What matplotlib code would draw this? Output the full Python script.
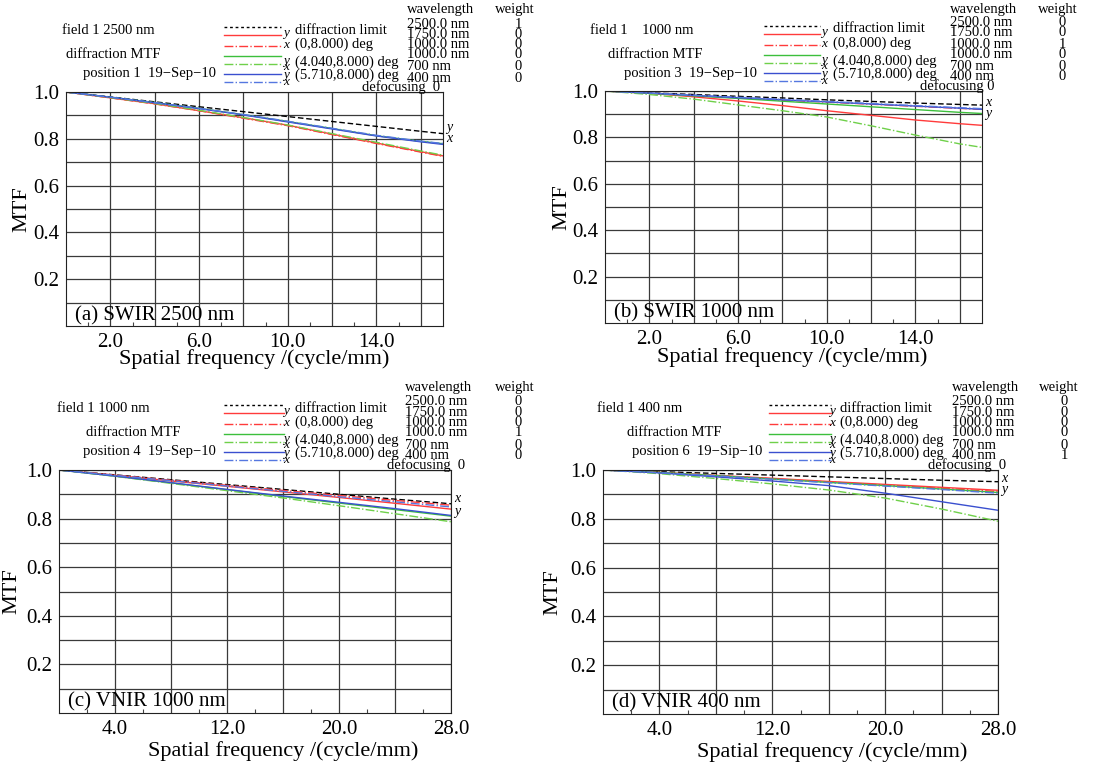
import matplotlib
matplotlib.use('Agg')
import matplotlib.pyplot as plt
from matplotlib.lines import Line2D

plt.rcParams['font.family'] = ['Liberation Serif', 'DejaVu Serif']

# spatial frequency samples (cycle/mm)
freq_swir = [0, 2, 4, 6, 8, 10, 12, 14, 16, 17]
freq_vnir = [0, 4, 8, 12, 16, 20, 24, 28]

# (a) SWIR 2500 nm
a_diff = [1.0, .979, .958, .937, .916, .895, .874, .853, .832, .822]
a_red_y = [1.0, .975, .95, .92, .89, .858, .82, .782, .745, .727]
a_red_x = [1.0, .975, .949, .92, .888, .856, .818, .78, .743, .725]
a_green_y = [1.0, .978, .955, .93, .903, .874, .844, .813, .789, .779]
a_green_x = [1.0, .976, .951, .922, .891, .859, .822, .785, .748, .73]
a_blue_y = [1.0, .978, .954, .929, .902, .872, .842, .812, .787, .776]
a_blue_x = [1.0, .978, .955, .93, .904, .875, .845, .815, .79, .78]

# (b) SWIR 1000 nm
b_diff = [1.0, .992, .985, .977, .970, .962, .955, .948, .942, .939]
b_red_y = [1.0, .99, .975, .957, .937, .915, .895, .875, .859, .852]
b_red_x = [1.0, .99, .98, .97, .961, .952, .943, .934, .925, .921]
b_green_y = [1.0, .99, .979, .968, .956, .944, .932, .92, .908, .903]
b_green_x = [1.0, .985, .965, .94, .915, .888, .85, .81, .772, .757]
b_blue_y = [1.0, .991, .981, .971, .962, .953, .944, .935, .926, .921]
b_blue_x = [1.0, .991, .982, .973, .964, .955, .946, .937, .928, .924]

# (c) VNIR 1000 nm
c_diff = [1.0, .98, .96, .94, .92, .90, .88, .861]
c_red_y = [1.0, .978, .955, .933, .91, .887, .863, .839]
c_red_x = [1.0, .979, .958, .937, .916, .895, .875, .855]
c_green_y = [1.0, .975, .947, .919, .891, .864, .837, .81]
c_green_x = [1.0, .974, .945, .915, .885, .853, .82, .787]
c_blue_y = [1.0, .975, .948, .92, .893, .867, .841, .813]
c_blue_x = [1.0, .978, .956, .934, .912, .89, .869, .848]

# (d) VNIR 400 nm
d_diff = [1.0, .993, .986, .979, .972, .965, .958, .952]
d_red_y = [1.0, .99, .978, .966, .953, .941, .929, .917]
d_red_x = [1.0, .99, .977, .964, .951, .938, .925, .912]
d_green_y = [1.0, .99, .977, .963, .949, .936, .922, .908]
d_green_x = [1.0, .985, .965, .943, .918, .885, .84, .79]
d_blue_y = [1.0, .988, .972, .955, .936, .905, .87, .835]
d_blue_x = [1.0, .989, .976, .962, .948, .934, .92, .905]

wavelengths = ['2500.0 nm', '1750.0 nm', '1000.0 nm', '1000.0 nm', '700 nm', '400 nm']
field_names = ['(0,8.000) deg', '(4.040,8.000) deg', '(5.710,8.000) deg']

W, H = 1100, 767
fig = plt.figure(figsize=(11, 7.67), dpi=100)


def fx(px):
    return px / W


def fy(py):
    return 1 - py / H


red, green, blue = '#ff3b3b', '#3cbf3c', '#3a4fcf'
curve_styles = [('k', (0, (4, 2))), (red, '-'), (red, '-.'), (green, '-'),
                ('#6fd04a', '-.'), (blue, '-'), ('#5577e0', '-.')]
head_styles = [('k', (0, (2, 2)))] + curve_styles[1:]

hsize = 10.5


def panel(box, freq, curves, xmax, grid_x, lab_x, minor_x, title, field, position,
          weights, defocus, head, ends, ylab_x, xlab_xy):
    l, t, r, b = box
    ax = fig.add_axes([fx(l), fy(b), (r - l) / W, (b - t) / H])
    for ys, (c, ls) in zip(curves, curve_styles):
        ax.plot(freq, ys, color=c, linestyle=ls, lw=1.0)
    ax.set_xlim(0, xmax)
    ax.set_ylim(0, 1.0)
    ax.set_xticks(grid_x)
    ax.set_xticklabels(['%.1f' % v if v in lab_x else '' for v in grid_x], fontsize=15)
    ax.set_xticks(minor_x, minor=True)
    yt = [i / 10 for i in range(1, 11)]
    ax.set_yticks(yt)
    ax.set_yticklabels(['%.1f' % v if round(v * 10) % 2 == 0 else '' for v in yt], fontsize=15)
    ax.tick_params(which='major', length=0, pad=5)
    ax.tick_params(which='minor', direction='in', length=3, width=0.8, color='#444444')
    ax.grid(True, which='major', color='#3a3a3a', lw=0.9)
    for s in ax.spines.values():
        s.set_color('#222222')
    ax.text(9 / (r - l), 0.045, title, fontsize=15, va='center', ha='left',
            transform=ax.get_yaxis_transform())
    fig.text(fx(ylab_x), fy((t + b) / 2), 'MTF', rotation=90, fontsize=16, ha='center', va='center')
    fig.text(fx(xlab_xy[0]), fy(xlab_xy[1]), 'Spatial frequency /(cycle/mm)', fontsize=16,
             ha='center', va='center')

    (f_dx, mtf_c, pos_r, l0, l1, let_dx, desc_dx, wl_dx, wt_dx, wv_dx, def_r) = head
    fig.text(fx(l + f_dx), fy(t - 61), field, fontsize=hsize, va='center')
    fig.text(fx(l + mtf_c), fy(t - 37), 'diffraction MTF', fontsize=hsize, va='center', ha='center')
    fig.text(fx(l + pos_r), fy(t - 18), position, fontsize=hsize, va='center', ha='right')
    for dy, (c, ls) in zip([-65, -57, -46, -36, -28, -18, -10], head_styles):
        fig.add_artist(Line2D([fx(l + l0), fx(l + l1)], [fy(t + dy), fy(t + dy)],
                              color=c, linestyle=ls, lw=1.0, transform=fig.transFigure))
    for dy, s in zip([-59, -47, -31, -25, -17, -10], ['y', 'x', 'y', 'x', 'y', 'x']):
        fig.text(fx(l + let_dx), fy(t + dy), s, fontsize=9.5, style='italic', va='center', ha='center')
    fig.text(fx(l + desc_dx), fy(t - 62), 'diffraction limit', fontsize=hsize, va='center')
    for dy, s in zip([-48, -30, -17], field_names):
        fig.text(fx(l + desc_dx), fy(t + dy), s, fontsize=hsize, va='center')
    fig.text(fx(l + wl_dx), fy(t - 82), 'wavelength', fontsize=hsize, va='center')
    fig.text(fx(l + wt_dx), fy(t - 82), 'weight', fontsize=hsize, va='center')
    for dy, wl, wt in zip([-68, -58, -47, -37, -25, -14], wavelengths, weights):
        fig.text(fx(l + wl_dx), fy(t + dy), wl, fontsize=hsize, va='center')
        fig.text(fx(l + wv_dx), fy(t + dy), str(wt), fontsize=hsize, va='center', ha='center')
    fig.text(fx(l + def_r), fy(t - 5), defocus, fontsize=hsize, va='center', ha='right')
    for (s, py) in ends:
        fig.text(fx(r + 3), fy(py), s, fontsize=10, style='italic', va='center', ha='left')


panel((66, 92, 443, 326), freq_swir,
      [a_diff, a_red_y, a_red_x, a_green_y, a_green_x, a_blue_y, a_blue_x],
      17, [2, 4, 6, 8, 10, 12, 14, 16], [2, 6, 10, 14], [1, 3, 5, 7, 9, 11, 13, 15],
      '(a) SWIR 2500 nm', 'field 1 2500 nm', 'position 1  19\u2212Sep\u221210',
      [1, 0, 0, 0, 0, 0], 'defocusing  0',
      (-4, 47, 150, 158, 215, 220, 229, 341, 429, 452, 374),
      [('y', 127), ('x', 138)], 22, (254, 359))

panel((605, 91, 982, 323), freq_swir,
      [b_diff, b_red_y, b_red_x, b_green_y, b_green_x, b_blue_y, b_blue_x],
      17, [2, 4, 6, 8, 10, 12, 14, 16], [2, 6, 10, 14], [1, 3, 5, 7, 9, 11, 13, 15],
      '(b) SWIR 1000 nm', 'field 1    1000 nm', 'position 3  19\u2212Sep\u221210',
      [0, 0, 1, 0, 0, 0], 'defocusing 0',
      (-15, 50, 152, 159, 215, 219, 228, 345, 433, 457, 389),
      [('x', 102), ('y', 113)], 562, (792, 357))

panel((59, 470, 451, 713), freq_vnir,
      [c_diff, c_red_y, c_red_x, c_green_y, c_green_x, c_blue_y, c_blue_x],
      28, [4, 8, 12, 16, 20, 24, 28], [4, 12, 20, 28], [2, 6, 10, 14, 18, 22, 26],
      '(c) VNIR 1000 nm', 'field 1 1000 nm', 'position 4  19\u2212Sep\u221210',
      [0, 0, 0, 1, 0, 0], 'defocusing  0',
      (-2, 74, 157, 165, 225, 227, 236, 346, 436, 459, 406),
      [('x', 499), ('y', 511)], 12, (283, 751))

panel((603, 470, 998, 714), freq_vnir,
      [d_diff, d_red_y, d_red_x, d_green_y, d_green_x, d_blue_y, d_blue_x],
      28, [4, 8, 12, 16, 20, 24, 28], [4, 12, 20, 28], [2, 6, 10, 14, 18, 22, 26],
      '(d) VNIR 400 nm', 'field 1 400 nm', 'position 6  19\u2212Sip\u221210',
      [0, 0, 0, 0, 0, 1], 'defocusing  0',
      (-6, 71, 159, 166, 228, 229, 237, 349, 436, 461, 403),
      [('x', 478), ('y', 489)], 553, (832, 752))

fig.savefig('out.png', dpi=100, facecolor='white')
